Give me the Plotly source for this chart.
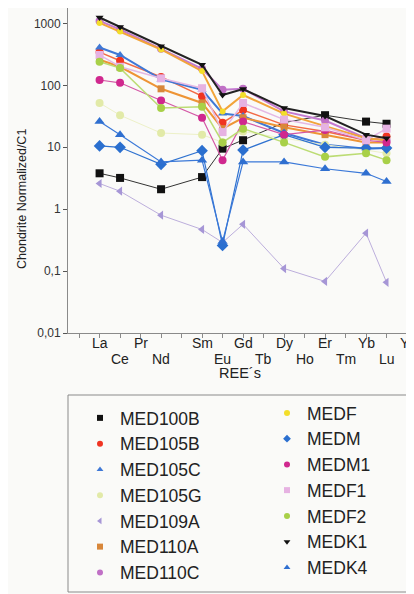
import plotly.graph_objects as go

# ---- data -------------------------------------------------------------
tick_labels = ["", "La", "Ce", "Pr", "Nd", "", "Sm", "Eu", "Gd", "Tb",
               "Dy", "Ho", "Er", "Tm", "Yb", "Lu", "Y"]
lower_row = {"Ce", "Nd", "Eu", "Tb", "Ho", "Tm", "Lu"}
elements = ["La", "Ce", "Nd", "Sm", "Eu", "Gd", "Dy", "Er", "Yb", "Lu"]

MED100B = [3.8, 3.2, 2.1, 3.3, 9.5, 13, 25, 33, 26, 24]
MED105B = [345, 250, 137, 67, 25, 40, 23, 18, 13, 15]
MED105C = [410, 310, 125, 85, 35, 32, 17, 11, 9.5, 9.7]
MED105G = [52, 33, 17, 16, 12, 18, 14, 11, 9, 8]
MED109A = [2.6, 1.95, 0.8, 0.47, 0.29, 0.57, 0.11, 0.068, 0.41, 0.066]
MED110A = [260, 200, 88, 52, 20, 30, 21, 16, 12, 12]
MED110C = [1100, 800, 390, 185, 85, 88, 38, 27, 14, 13]
MEDF = [1020, 740, 380, 170, 38, 70, 35, 22, 14, 13]
MEDM = [10.5, 10, 5.3, 8.8, 0.26, 9, 16, 10, 9.7, 9.7]
MEDM1 = [122, 110, 57, 30, 6.2, 26, 16, 19, 13, 12]
MEDF1 = [310, 200, 130, 90, 17.6, 52, 28, 21, 13, 20]
MEDF2 = [240, 190, 43, 45, 12, 20, 12, 7, 8, 6.2]
MEDK1 = [1250, 880, 430, 215, 70, 87, 43, 32, 16, 14]
MEDK4 = [26, 16, 5.8, 6.2, 0.3, 5.8, 5.8, 4.5, 3.8, 2.8]

y_tickvals = [0.01, 0.1, 1, 10, 100, 1000]
y_ticktext = ["0,01", "0,1", "1", "10", "100", "1000"]

# name, values, marker colour, line colour, symbol, size, line width, legend column
series = [
    ("MED100B", MED100B, "#111111", "#333333", "square", 8, 1.0, 1),
    ("MED105B", MED105B, "#f03422", "#f26a45", "circle", 8, 1.5, 1),
    ("MED105C", MED105C, "#3f78d6", "#3f78d6", "triangle-up", 8, 2.0, 1),
    ("MED105G", MED105G, "#e2eaa8", "#edf1c8", "circle", 8, 1.0, 1),
    ("MED109A", MED109A, "#a696d6", "#bcaedc", "triangle-left", 8, 1.0, 1),
    ("MED110A", MED110A, "#d8873a", "#ee9435", "square", 7, 2.0, 1),
    ("MED110C", MED110C, "#c070c6", "#c47ad0", "circle", 8, 2.0, 1),
    ("MEDF", MEDF, "#f3de2a", "#f2a43a", "circle", 6, 2.0, 2),
    ("MEDM", MEDM, "#2a6fcf", "#2f72d0", "diamond", 9, 1.2, 2),
    ("MEDM1", MEDM1, "#d0288e", "#d458a6", "circle", 8, 1.2, 2),
    ("MEDF1", MEDF1, "#e6b2e2", "#e4b8e4", "square", 8, 1.5, 2),
    ("MEDF2", MEDF2, "#a8d048", "#bcdc74", "circle", 8, 1.5, 2),
    ("MEDK1", MEDK1, "#111111", "#222222", "triangle-down", 7, 2.0, 2),
    ("MEDK4", MEDK4, "#2f6fd0", "#3a78d8", "triangle-up", 9, 1.2, 2),
]

xpos = [tick_labels.index(e) for e in elements]

fig = go.Figure()
for name, vals, mc, lc, sym, size, lw, col in series:
    fig.add_trace(go.Scatter(
        x=xpos, y=vals, mode="lines+markers", name=name,
        line=dict(color=lc, width=lw),
        marker=dict(color=mc, symbol=sym, size=size, line=dict(width=0)),
        showlegend=False,
    ))
# legend entries (marker only, two columns)
for name, vals, mc, lc, sym, size, lw, col in series:
    fig.add_trace(go.Scatter(
        x=[None], y=[None], mode="markers", name=name,
        marker=dict(color=mc, symbol=sym, size=6, line=dict(width=0)),
        legend="legend" if col == 1 else "legend2",
    ))

# page body adds an 8px offset; work in reference-pixel coordinates
OX, OY = 8, 8
W, H = 414 - OX, 594 - OY
L, R, T, B = 68 - OX, 0, 8 - OY, H - (333 - OY)
pw, ph = W - L - R, H - T - B

def px_x(px):
    return (px - OX - L) / pw

def px_y(py):
    return (H - B - (py - OY)) / ph

font = "Liberation Sans, Arial, sans-serif"

# two-row element labels under the x axis
tick_annos = []
for i, t in enumerate(tick_labels):
    if not t:
        continue
    tick_annos.append(dict(
        text=t, xref="x", yref="paper", x=min(i, 15.9),
        y=px_y(359 if t in lower_row else 343),
        xanchor="center", yanchor="middle", showarrow=False,
        font=dict(size=14, family=font, color="#222222")))

fig.update_layout(
    width=W, height=H,
    margin=dict(l=L, r=R, t=T, b=B, pad=0),
    paper_bgcolor="#fafaf8", plot_bgcolor="#fafaf8",
    font=dict(family=font, color="#222222"),
    xaxis=dict(
        range=[-0.54, 16.34], tickmode="array",
        tickvals=list(range(len(tick_labels))), showticklabels=False,
        showgrid=False, zeroline=False, showline=True, linecolor="#8a8a8a",
        linewidth=1, ticks="outside", ticklen=4, tickcolor="#8a8a8a",
    ),
    yaxis=dict(
        type="log", range=[-2, 3.25], tickmode="array",
        tickvals=y_tickvals, ticktext=y_ticktext,
        showgrid=False, zeroline=False, showline=True, linecolor="#8a8a8a",
        linewidth=1, ticks="outside", ticklen=4, tickcolor="#555555",
        tickfont=dict(size=12, family=font, color="#333333"),
    ),
    legend=dict(
        x=px_x(80), y=px_y(400), xanchor="left", yanchor="top",
        bgcolor="rgba(0,0,0,0)", borderwidth=0,
        font=dict(size=17.5, family=font, color="#222222"),
    ),
    legend2=dict(
        x=px_x(267), y=px_y(395), xanchor="left", yanchor="top",
        bgcolor="rgba(0,0,0,0)", borderwidth=0,
        font=dict(size=17.5, family=font, color="#222222"),
    ),
    shapes=[dict(
        type="rect", xref="paper", yref="paper",
        x0=0, x1=1.2, y0=px_y(592), y1=px_y(395),
        line=dict(color="#8a8a8a", width=1), fillcolor="rgba(0,0,0,0)",
    )],
    annotations=tick_annos + [
        dict(text="Chondrite Normalized/C1", textangle=-90,
             xref="paper", yref="paper", x=px_x(22), y=px_y(199),
             xanchor="center", yanchor="middle", showarrow=False,
             font=dict(size=12.5, family=font, color="#222222")),
        dict(text="REE\u00b4s", xref="paper", yref="paper",
             x=px_x(240), y=px_y(373), xanchor="center", yanchor="middle",
             showarrow=False, font=dict(size=14.5, family=font, color="#222222")),
    ],
)

fig.write_html("out.html")
